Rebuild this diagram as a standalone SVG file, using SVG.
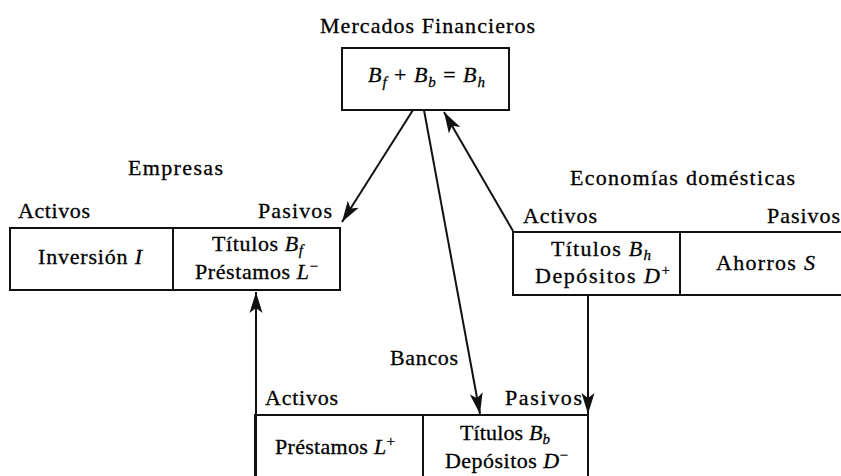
<svg xmlns="http://www.w3.org/2000/svg" width="841" height="476" viewBox="0 0 841 476">
<style>
.t{font-family:"Liberation Serif","Times New Roman",serif;font-size:22px;fill:#000;stroke:#000;stroke-width:0.3}
.i{font-style:italic}
.s{font-size:15px;font-style:italic}
.p{font-size:15px}
.box{fill:#fff;stroke:#111;stroke-width:2}
.ln{stroke:#111;stroke-width:2;fill:none}
.arr{stroke:#111;stroke-width:2;fill:none;marker-end:url(#ah)}
</style>
<defs>
<marker id="ah" markerUnits="userSpaceOnUse" markerWidth="22" markerHeight="14" refX="21" refY="7" orient="auto">
<path d="M0,0.5 L21,7 L0,13.5 L5,7 Z" fill="#111"/>
</marker>
</defs>
<rect width="841" height="476" fill="#fff"/>

<g id="mercados">
<text class="t" x="320" y="33" textLength="215">Mercados Financieros</text>
<rect class="box" x="342" y="48" width="167" height="62"/>
<text class="t" x="368" y="82" textLength="117"><tspan class="i">B</tspan><tspan class="s" dy="5">f</tspan><tspan dy="-5"> + </tspan><tspan class="i">B</tspan><tspan class="s" dy="5">b</tspan><tspan dy="-5"> = </tspan><tspan class="i">B</tspan><tspan class="s" dy="5">h</tspan></text>
</g>

<g id="empresas">
<text class="t" x="128" y="175" textLength="95">Empresas</text>
<text class="t" x="18" y="218" textLength="72">Activos</text>
<text class="t" x="258" y="218" textLength="74">Pasivos</text>
<rect class="box" x="10" y="228" width="330" height="62"/>
<line class="ln" x1="173" y1="228" x2="173" y2="290"/>
<text class="t" x="38" y="264" textLength="104">Inversión <tspan class="i">I</tspan></text>
<text class="t" x="212" y="251" textLength="91">Títulos <tspan class="i">B</tspan><tspan class="s" dy="4">f</tspan></text>
<text class="t" x="195" y="279" textLength="123">Préstamos <tspan class="i">L</tspan><tspan class="p" dy="-8">−</tspan></text>
</g>

<g id="hogares">
<text class="t" x="570" y="185" textLength="225">Economías domésticas</text>
<text class="t" x="523" y="223" textLength="74">Activos</text>
<text class="t" x="767" y="223" textLength="73">Pasivos</text>
<path class="ln" d="M848,232 H513 V295 H848"/>
<line class="ln" x1="680" y1="232" x2="680" y2="295"/>
<text class="t" x="551" y="256" textLength="100">Títulos <tspan class="i">B</tspan><tspan class="s" dy="4">h</tspan></text>
<text class="t" x="535" y="283" textLength="135">Depósitos <tspan class="i">D</tspan><tspan class="p" dy="-8">+</tspan></text>
<text class="t" x="716" y="270" textLength="99">Ahorros <tspan class="i">S</tspan></text>
</g>

<g id="bancos">
<text class="t" x="390" y="365" textLength="68">Bancos</text>
<text class="t" x="265" y="405" textLength="73">Activos</text>
<text class="t" x="505" y="405" textLength="77">Pasivos</text>
<path class="ln" d="M255,480 V415 H588 V480"/>
<line class="ln" x1="423" y1="415" x2="423" y2="480"/>
<text class="t" x="275" y="454" textLength="120">Préstamos <tspan class="i">L</tspan><tspan class="p" dy="-8">+</tspan></text>
<text class="t" x="460" y="440" textLength="90">Títulos <tspan class="i">B</tspan><tspan class="s" dy="4">b</tspan></text>
<text class="t" x="445" y="468" textLength="123">Depósitos <tspan class="i">D</tspan><tspan class="p" dy="-8">−</tspan></text>
</g>

<g id="connectors">
<line class="arr" x1="413" y1="110" x2="342" y2="222"/>
<line class="arr" x1="424" y1="110" x2="480" y2="414"/>
<line class="arr" x1="513" y1="231" x2="444" y2="112"/>
<line class="arr" x1="588" y1="295" x2="588" y2="414"/>
<line class="arr" x1="256" y1="476" x2="256" y2="292"/>
</g>
</svg>
